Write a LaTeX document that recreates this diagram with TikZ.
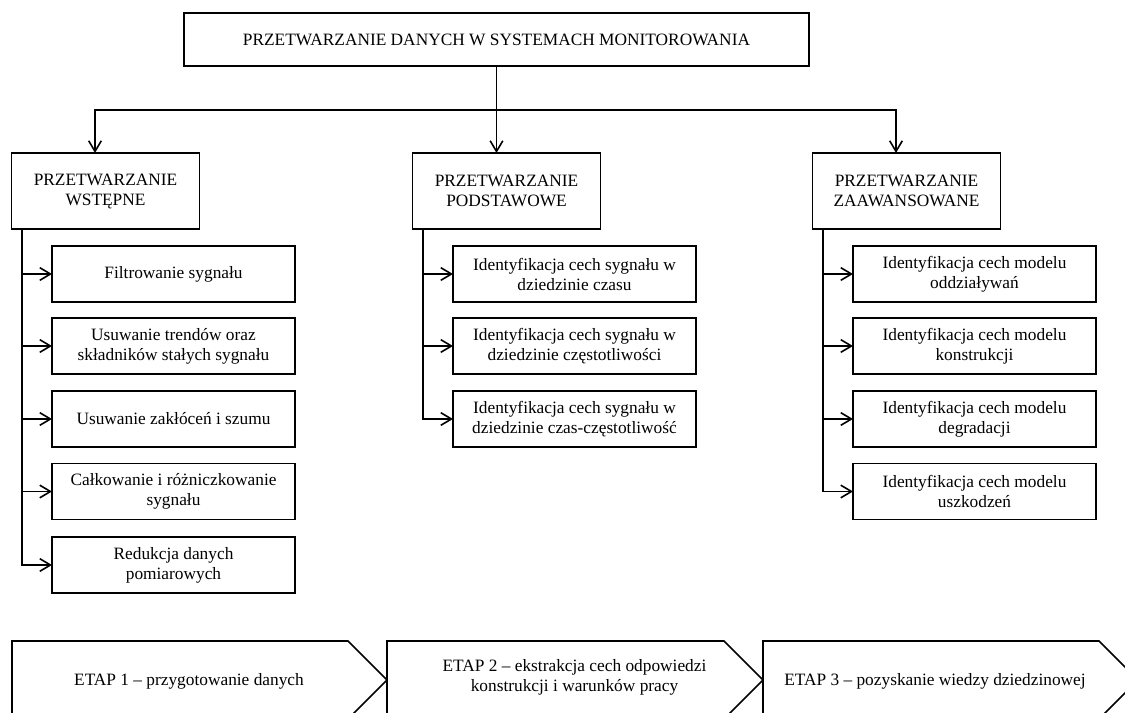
\documentclass[tikz,border=0pt]{standalone}
\usepackage{fontspec}
\setmainfont{Liberation Serif}
\usetikzlibrary{arrows.meta}
\newcommand\diagfont{\fontsize{13pt}{15pt}\selectfont}
\begin{document}
\begin{tikzpicture}[x=0.75pt,y=-0.75pt,
  box/.style={draw, line width=1.2pt, inner sep=0pt, outer sep=0pt, align=center, font=\diagfont},
  topbox/.style={box, minimum width=468.75pt, minimum height=39.75pt},
  headbox/.style={box, minimum width=141pt, minimum height=57pt},
  itembox/.style={box, minimum width=182.25pt, minimum height=42pt},
  link/.style={line width=1.2pt},
  arr/.style={link, -{Straight Barb[length=8pt,width=9.5pt]}},
  stage/.style={link, line join=miter},
  stagetext/.style={font=\diagfont, align=center, inner sep=0pt}]
\useasboundingbox (0,0) rectangle (1125,713);

% main title
\node[topbox] (top) at (496.5,39.5) {PRZETWARZANIE DANYCH W SYSTEMACH MONITOROWANIA};

% the three processing levels
\node[headbox] (hw) at (105.5,191) {PRZETWARZANIE\\WSTĘPNE};
\node[headbox] (hp) at (506.5,191) {PRZETWARZANIE\\PODSTAWOWE};
\node[headbox] (hz) at (906.5,191) {PRZETWARZANIE\\ZAAWANSOWANE};

% pre-processing tasks
\node[itembox] (w1) at (173.5,274)   {Filtrowanie sygnału};
\node[itembox] (w2) at (173.5,346)   {Usuwanie trendów oraz\\składników stałych sygnału};
\node[itembox] (w3) at (173.5,419)   {Usuwanie zakłóceń i szumu};
\node[itembox] (w4) at (173.5,491.5) {Całkowanie i różniczkowanie\\sygnału};
\node[itembox] (w5) at (173.5,565)   {Redukcja danych\\pomiarowych};

% basic processing tasks
\node[itembox] (p1) at (574.5,274) {Identyfikacja cech sygnału w\\dziedzinie czasu};
\node[itembox] (p2) at (574.5,346) {Identyfikacja cech sygnału w\\dziedzinie częstotliwości};
\node[itembox] (p3) at (574.5,419) {Identyfikacja cech sygnału w\\dziedzinie czas-częstotliwość};

% advanced processing tasks
\node[itembox] (z1) at (974.5,274)   {Identyfikacja cech modelu\\oddziaływań};
\node[itembox] (z2) at (974.5,346)   {Identyfikacja cech modelu\\konstrukcji};
\node[itembox] (z3) at (974.5,419)   {Identyfikacja cech modelu\\degradacji};
\node[itembox] (z4) at (974.5,491.5) {Identyfikacja cech modelu\\uszkodzeń};

% distribution from the title to the levels
\coordinate (hubL) at (95,110);
\coordinate (hubR) at (896,110);
\draw[arr] (top.south) -- (top.south |- hp.north);
\draw[arr] (top.south |- hubL) -- (hubL) -- (hubL |- hw.north);
\draw[arr] (top.south |- hubR) -- (hubR) -- (hubR |- hz.north);

% trunks feeding the task boxes
\coordinate (tw) at (22,229);
\coordinate (tp) at (423,229);
\coordinate (tz) at (823,229);
\draw[arr] (tw) -- (tw |- w5.west) -- (w5.west);
\foreach \i in {1,...,4} \draw[arr] (tw |- w\i.west) -- (w\i.west);
\draw[arr] (tp) -- (tp |- p3.west) -- (p3.west);
\foreach \i in {1,2} \draw[arr] (tp |- p\i.west) -- (p\i.west);
\draw[arr] (tz) -- (tz |- z4.west) -- (z4.west);
\foreach \i in {1,2,3} \draw[arr] (tz |- z\i.west) -- (z\i.west);

% stage band along the bottom
\begin{scope}
\clip (0,0) rectangle (1125,713);
\draw[stage] (12,641) -- (348,641) -- (387,680) -- (348,719) -- (12,719) -- cycle;
\draw[stage] (387,641) -- (724,641) -- (763,680) -- (724,719) -- (387,719) -- cycle;
\draw[stage] (763,641) -- (1099,641) -- (1138,680) -- (1099,719) -- (763,719) -- cycle;
\end{scope}
\node[stagetext] (e1) at (189,681) {ETAP 1 – przygotowanie danych};
\node[stagetext] (e2) at (574.5,677) {ETAP 2 – ekstrakcja cech odpowiedzi\\konstrukcji i warunków pracy};
\node[stagetext] (e3) at (935,681) {ETAP 3 – pozyskanie wiedzy dziedzinowej};
\end{tikzpicture}
\end{document}
